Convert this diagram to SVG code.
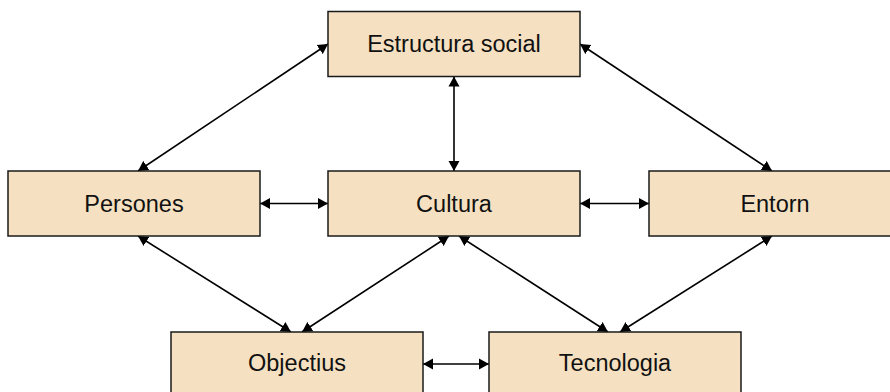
<svg xmlns="http://www.w3.org/2000/svg" width="890" height="392" viewBox="0 0 890 392">
<style>
.box{fill:#F5E1C1;stroke:#1a1a1a;stroke-width:1.5}
.lbl{font-family:"Liberation Sans",Arial,sans-serif;font-size:23.5px;fill:#111;text-anchor:middle;dominant-baseline:central}
.c{stroke:#000;stroke-width:1.6;fill:none;marker-start:url(#ah);marker-end:url(#ah)}
</style>
<defs>
<marker id="ah" markerUnits="userSpaceOnUse" markerWidth="10" markerHeight="12" viewBox="0 0 10 12" refX="10" refY="6" orient="auto-start-reverse">
<path d="M0,0.5 L10,6 L0,11.5 z" fill="#000"/>
</marker>
</defs>
<rect width="890" height="392" fill="#fff"/>
<g id="connectors">
<line class="c" x1="328" y1="44" x2="138" y2="171"/>
<line class="c" x1="580" y1="44" x2="772" y2="171"/>
<line class="c" x1="454" y1="76.5" x2="454" y2="171"/>
<line class="c" x1="260" y1="203.5" x2="328" y2="203.5"/>
<line class="c" x1="580" y1="203.5" x2="649" y2="203.5"/>
<line class="c" x1="138" y1="236" x2="291" y2="332"/>
<line class="c" x1="449" y1="236" x2="302" y2="332"/>
<line class="c" x1="459" y1="236" x2="608" y2="332"/>
<line class="c" x1="772" y1="236" x2="620" y2="332"/>
<line class="c" x1="423" y1="364" x2="489" y2="364"/>
</g>
<g id="estructura"><rect class="box" x="328" y="11.5" width="252" height="65"/><text class="lbl" x="454" y="44">Estructura social</text></g>
<g id="persones"><rect class="box" x="8" y="171" width="252" height="65"/><text class="lbl" x="134" y="203.5">Persones</text></g>
<g id="cultura"><rect class="box" x="328" y="171" width="252" height="65"/><text class="lbl" x="454" y="203.5">Cultura</text></g>
<g id="entorn"><rect class="box" x="649" y="171" width="252" height="65"/><text class="lbl" x="775" y="203.5">Entorn</text></g>
<g id="objectius"><rect class="box" x="171" y="332" width="252" height="65"/><text class="lbl" x="297" y="363">Objectius</text></g>
<g id="tecnologia"><rect class="box" x="489" y="332" width="252" height="65"/><text class="lbl" x="615" y="363">Tecnologia</text></g>
</svg>
